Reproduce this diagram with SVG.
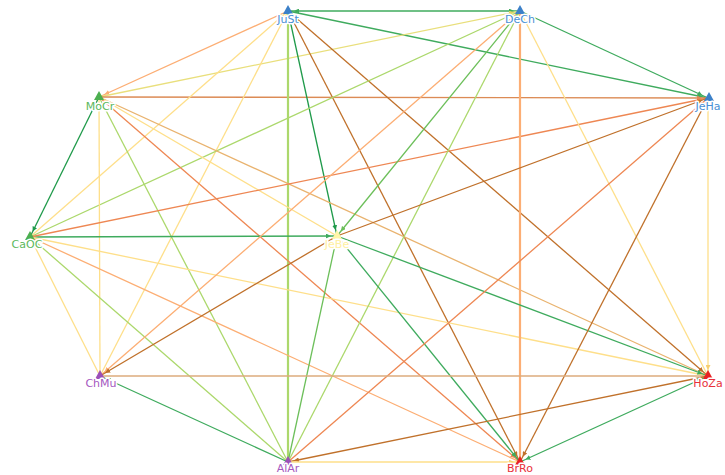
<svg xmlns="http://www.w3.org/2000/svg" width="725" height="475" viewBox="0 0 725 475">
<style>
.e{fill:none;stroke-width:1.3}
.dg{stroke:#1f9a4a}.g{stroke:#3fab5e}.mg{stroke:#6cbf5a}.lg{stroke:#acd86c}.y{stroke:#fedf8a}.ky{stroke:#e9df7c}.pe{stroke:#fcae74}.tan{stroke:#e9b36f}.or{stroke:#ee8753}.ob{stroke:#dc8b55}.br{stroke:#c0712b}
.thick{stroke-width:2.2}
.lbl{font-family:"DejaVu Sans","Liberation Sans",sans-serif;font-size:11px;text-anchor:middle;stroke:#fff;stroke-width:3px;stroke-linejoin:round;paint-order:stroke}
.blue{fill:#3c80c8}.green{fill:#4caf50}.purple{fill:#9c4fb8}.red{fill:#e82222}.pale{fill:#fff6a8}
.tblue{fill:#4a8fd4}.tgreen{fill:#5cb85c}.tpurple{fill:#a558c0}.tred{fill:#e8303a}.tpale{fill:#fff0a0}
</style>
<defs>
<marker id="m-dg" viewBox="0 0 10 10" refX="22" refY="5" markerWidth="5" markerHeight="5" markerUnits="userSpaceOnUse" orient="auto-start-reverse"><path d="M0,0L10,5L0,10z" fill="#1f9a4a"/></marker>
<marker id="m-g" viewBox="0 0 10 10" refX="22" refY="5" markerWidth="5" markerHeight="5" markerUnits="userSpaceOnUse" orient="auto-start-reverse"><path d="M0,0L10,5L0,10z" fill="#3fab5e"/></marker>
<marker id="m-mg" viewBox="0 0 10 10" refX="22" refY="5" markerWidth="5" markerHeight="5" markerUnits="userSpaceOnUse" orient="auto-start-reverse"><path d="M0,0L10,5L0,10z" fill="#6cbf5a"/></marker>
<marker id="m-y" viewBox="0 0 10 10" refX="22" refY="5" markerWidth="5" markerHeight="5" markerUnits="userSpaceOnUse" orient="auto-start-reverse"><path d="M0,0L10,5L0,10z" fill="#f6cf70"/></marker>
<marker id="m-ky" viewBox="0 0 10 10" refX="22" refY="5" markerWidth="5" markerHeight="5" markerUnits="userSpaceOnUse" orient="auto-start-reverse"><path d="M0,0L10,5L0,10z" fill="#e0d468"/></marker>
<marker id="m-pe" viewBox="0 0 10 10" refX="22" refY="5" markerWidth="5" markerHeight="5" markerUnits="userSpaceOnUse" orient="auto-start-reverse"><path d="M0,0L10,5L0,10z" fill="#fcae74"/></marker>
<marker id="m-or" viewBox="0 0 10 10" refX="22" refY="5" markerWidth="5" markerHeight="5" markerUnits="userSpaceOnUse" orient="auto-start-reverse"><path d="M0,0L10,5L0,10z" fill="#ee8753"/></marker>
<marker id="m-ob" viewBox="0 0 10 10" refX="22" refY="5" markerWidth="5" markerHeight="5" markerUnits="userSpaceOnUse" orient="auto-start-reverse"><path d="M0,0L10,5L0,10z" fill="#dc8b55"/></marker>
<marker id="m-br" viewBox="0 0 10 10" refX="22" refY="5" markerWidth="5" markerHeight="5" markerUnits="userSpaceOnUse" orient="auto-start-reverse"><path d="M0,0L10,5L0,10z" fill="#c0712b"/></marker>
</defs>
<g id="connectors">
<line class="e g" x1="288" y1="11" x2="520" y2="11" marker-start="url(#m-g)" marker-end="url(#m-g)"/>
<line class="e g" x1="288" y1="11" x2="708" y2="98" marker-end="url(#m-g)"/>
<line class="e g" x1="520" y1="11" x2="708" y2="98" marker-end="url(#m-g)"/>
<line class="e pe" x1="288" y1="11" x2="99" y2="97" marker-end="url(#m-pe)"/>
<line class="e ky" x1="99" y1="97" x2="520" y2="11" marker-end="url(#m-ky)"/>
<line class="e ob" x1="99" y1="97" x2="708" y2="98" marker-end="url(#m-ob)"/>
<line class="e y" x1="288" y1="11" x2="30" y2="237"/>
<line class="e y" x1="288" y1="11" x2="100" y2="376"/>
<line class="e lg thick" x1="288" y1="11" x2="288" y2="462"/>
<line class="e dg" x1="288" y1="11" x2="337" y2="236" marker-end="url(#m-dg)"/>
<line class="e br" x1="288" y1="11" x2="708" y2="376" marker-end="url(#m-br)"/>
<line class="e br" x1="288" y1="11" x2="520" y2="462" marker-end="url(#m-br)"/>
<line class="e lg" x1="30" y1="237" x2="520" y2="11"/>
<line class="e dg" x1="99" y1="97" x2="30" y2="237" marker-end="url(#m-dg)"/>
<line class="e y" x1="99" y1="97" x2="100" y2="376"/>
<line class="e lg" x1="99" y1="97" x2="288" y2="462"/>
<line class="e or" x1="99" y1="97" x2="520" y2="462" marker-end="url(#m-or)"/>
<line class="e tan" x1="99" y1="97" x2="708" y2="376"/>
<line class="e y" x1="99" y1="97" x2="337" y2="236"/>
<line class="e g" x1="30" y1="237" x2="337" y2="236" marker-end="url(#m-g)"/>
<line class="e or" x1="30" y1="237" x2="708" y2="98" marker-end="url(#m-or)"/>
<line class="e y" x1="30" y1="237" x2="100" y2="376"/>
<line class="e lg" x1="30" y1="237" x2="288" y2="462"/>
<line class="e pe" x1="30" y1="237" x2="520" y2="462"/>
<line class="e y" x1="30" y1="237" x2="708" y2="376"/>
<line class="e pe" x1="520" y1="11" x2="100" y2="376" marker-end="url(#m-pe)"/>
<line class="e mg" x1="520" y1="11" x2="337" y2="236" marker-end="url(#m-mg)"/>
<line class="e lg" x1="520" y1="11" x2="288" y2="462"/>
<line class="e y" x1="520" y1="11" x2="708" y2="376"/>
<line class="e pe thick" x1="520" y1="11" x2="520" y2="462"/>
<line class="e br" x1="337" y1="236" x2="708" y2="98" marker-end="url(#m-br)"/>
<line class="e br" x1="337" y1="236" x2="100" y2="376" marker-end="url(#m-br)"/>
<line class="e g" x1="337" y1="236" x2="708" y2="376" marker-end="url(#m-g)"/>
<line class="e g" x1="337" y1="236" x2="520" y2="462" marker-end="url(#m-g)"/>
<line class="e mg" x1="337" y1="236" x2="288" y2="462"/>
<line class="e y" x1="708" y1="98" x2="708" y2="376" marker-end="url(#m-y)"/>
<line class="e br" x1="708" y1="98" x2="520" y2="462" marker-end="url(#m-br)"/>
<line class="e or" x1="288" y1="462" x2="708" y2="98" marker-end="url(#m-or)"/>
<line class="e tan" x1="100" y1="376" x2="708" y2="376" style="stroke:#dcab7c"/>
<line class="e g" x1="288" y1="462" x2="100" y2="376" marker-end="url(#m-g)"/>
<line class="e br" x1="708" y1="376" x2="288" y2="462" marker-end="url(#m-br)"/>
<line class="e y" x1="288" y1="462" x2="520" y2="462" marker-end="url(#m-y)"/>
<line class="e g" x1="708" y1="376" x2="520" y2="462" marker-start="url(#m-g)" marker-end="url(#m-g)"/>
</g>
<g id="JuSt"><polygon class="blue" points="288,5 283,14 293,14"/><text class="lbl tblue" x="288" y="23">JuSt</text></g>
<g id="DeCh"><polygon class="blue" points="520,5 515,14 525,14"/><text class="lbl tblue" x="520" y="23">DeCh</text></g>
<g id="JeHa"><polygon class="blue" points="709,92 704,101 714,101"/><text class="lbl tblue" x="708" y="110">JeHa</text></g>
<g id="MoCr"><polygon class="green" points="99,91 94,100 104,100"/><text class="lbl tgreen" x="100" y="110">MoCr</text></g>
<g id="CaOC"><polygon class="green" points="30,231 25,240 35,240"/><text class="lbl tgreen" x="27" y="248">CaOC</text></g>
<g id="JeBe"><polygon class="pale" points="337,230 332,239 342,239"/><text class="lbl tpale" x="337" y="248">JeBe</text></g>
<g id="ChMu"><polygon class="purple" points="100,370 95,379 105,379"/><text class="lbl tpurple" x="101" y="387">ChMu</text></g>
<g id="HoZa"><polygon class="red" points="708,370 703,379 713,379"/><text class="lbl tred" x="708" y="387">HoZa</text></g>
<g id="AlAr"><polygon class="purple" points="288,456 283,465 293,465"/><text class="lbl tpurple" x="288" y="472">AlAr</text></g>
<g id="BrRo"><polygon class="red" points="520,456 515,465 525,465"/><text class="lbl tred" x="520" y="472">BrRo</text></g>
</svg>
